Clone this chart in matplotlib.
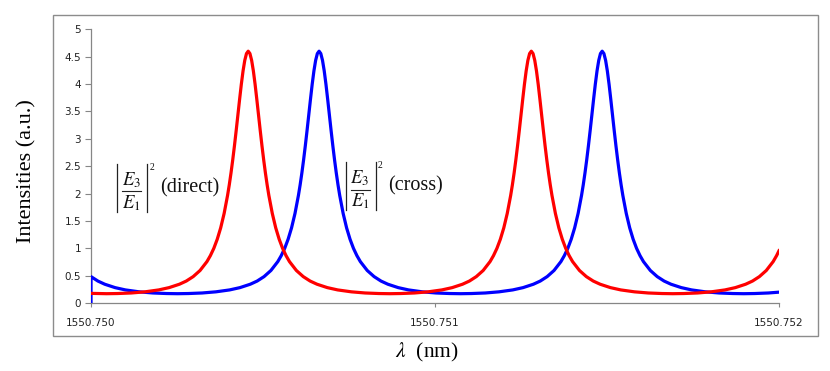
import matplotlib
matplotlib.use("Agg")
import matplotlib.pyplot as plt
from matplotlib.patches import Rectangle
from matplotlib.lines import Line2D

plt.rcParams['mathtext.fontset'] = 'stix'

# wavelength offsets from 1550.750 nm, in units of 1e-6 nm
red_offset = [0, 45.5, 77, 117, 157, 197, 227, 257, 277, 297, 317, 337, 347, 357, 367, 377, 387, 397, 402, 407, 412,
              417, 422, 427, 432, 437, 442, 447, 452, 457, 462, 467, 472, 477, 482, 487, 492, 497, 502, 507, 512, 517,
              527, 537, 547, 557, 567, 577, 597, 617, 637, 657, 687, 717, 757, 797, 837, 868.5,
              900, 940, 980, 1020, 1050, 1080, 1100, 1120, 1140, 1160, 1170, 1180, 1190, 1200, 1210, 1220, 1225, 1230,
              1235, 1240, 1245, 1250, 1255, 1260, 1265, 1270, 1275, 1280, 1285, 1290, 1295, 1300, 1305, 1310, 1315,
              1320, 1325, 1330, 1335, 1340, 1350, 1360, 1370, 1380, 1390, 1400, 1420, 1440, 1460, 1480, 1510, 1540,
              1580, 1620, 1660, 1691.5, 1723, 1763, 1803, 1843, 1873, 1903, 1923, 1943, 1963, 1983, 1993, 2000]
red_intensity = [0.176, 0.170, 0.173, 0.183, 0.204, 0.239, 0.281, 0.343, 0.401, 0.482, 0.594, 0.756, 0.865, 0.998,
                 1.165, 1.373, 1.636, 1.966, 2.160, 2.376, 2.614, 2.872, 3.148, 3.434, 3.721, 3.996, 4.239, 4.432,
                 4.557, 4.600, 4.557, 4.432, 4.239, 3.996, 3.721, 3.434, 3.148, 2.872, 2.614, 2.376, 2.160, 1.966,
                 1.636, 1.373, 1.165, 0.998, 0.865, 0.756, 0.594, 0.482, 0.401, 0.343, 0.281, 0.239, 0.204, 0.183,
                 0.173, 0.170,
                 0.173, 0.183, 0.204, 0.239, 0.281, 0.343, 0.401, 0.482, 0.594, 0.756, 0.865, 0.998, 1.165, 1.373,
                 1.636, 1.966, 2.160, 2.376, 2.614, 2.872, 3.148, 3.434, 3.721, 3.996, 4.239, 4.432, 4.557, 4.600,
                 4.557, 4.432, 4.239, 3.996, 3.721, 3.434, 3.148, 2.872, 2.614, 2.376, 2.160, 1.966, 1.636, 1.373,
                 1.165, 0.998, 0.865, 0.756, 0.594, 0.482, 0.401, 0.343, 0.281, 0.239, 0.204, 0.183, 0.173, 0.170,
                 0.173, 0.183, 0.204, 0.239, 0.281, 0.343, 0.401, 0.482, 0.594, 0.756, 0.865, 0.955]

blue_offset = [0, 0, 20, 40, 70, 100, 140, 180, 220, 251.5,
               283, 323, 363, 403, 433, 463, 483, 503, 523, 543, 553, 563, 573, 583, 593, 603, 608, 613, 618, 623,
               628, 633, 638, 643, 648, 653, 658, 663, 668, 673, 678, 683, 688, 693, 698, 703, 708, 713, 718, 723,
               733, 743, 753, 763, 773, 783, 803, 823, 843, 863, 893, 923, 963, 1003, 1043, 1074.5,
               1106, 1146, 1186, 1226, 1256, 1286, 1306, 1326, 1346, 1366, 1376, 1386, 1396, 1406, 1416, 1426, 1431,
               1436, 1441, 1446, 1451, 1456, 1461, 1466, 1471, 1476, 1481, 1486, 1491, 1496, 1501, 1506, 1511, 1516,
               1521, 1526, 1531, 1536, 1541, 1546, 1556, 1566, 1576, 1586, 1596, 1606, 1626, 1646, 1666, 1686, 1716,
               1746, 1786, 1826, 1866, 1897.5, 1929, 1969, 2000]
blue_intensity = [0.000, 0.482, 0.401, 0.343, 0.281, 0.239, 0.204, 0.183, 0.173, 0.170,
                  0.173, 0.183, 0.204, 0.239, 0.281, 0.343, 0.401, 0.482, 0.594, 0.756, 0.865, 0.998, 1.165, 1.373,
                  1.636, 1.966, 2.160, 2.376, 2.614, 2.872, 3.148, 3.434, 3.721, 3.996, 4.239, 4.432, 4.557, 4.600,
                  4.557, 4.432, 4.239, 3.996, 3.721, 3.434, 3.148, 2.872, 2.614, 2.376, 2.160, 1.966, 1.636, 1.373,
                  1.165, 0.998, 0.865, 0.756, 0.594, 0.482, 0.401, 0.343, 0.281, 0.239, 0.204, 0.183, 0.173, 0.170,
                  0.173, 0.183, 0.204, 0.239, 0.281, 0.343, 0.401, 0.482, 0.594, 0.756, 0.865, 0.998, 1.165, 1.373,
                  1.636, 1.966, 2.160, 2.376, 2.614, 2.872, 3.148, 3.434, 3.721, 3.996, 4.239, 4.432, 4.557, 4.600,
                  4.557, 4.432, 4.239, 3.996, 3.721, 3.434, 3.148, 2.872, 2.614, 2.376, 2.160, 1.966, 1.636, 1.373,
                  1.165, 0.998, 0.865, 0.756, 0.594, 0.482, 0.401, 0.343, 0.281, 0.239, 0.204, 0.183, 0.173, 0.170,
                  0.173, 0.183, 0.198]

lambda0 = 1550.750
x_ticks = [1550.750, 1550.751, 1550.752]
x_tick_labels = ["1550.750", "1550.751", "1550.752"]
y_ticks = [0, 0.5, 1, 1.5, 2, 2.5, 3, 3.5, 4, 4.5, 5]
y_tick_labels = ["0", "0.5", "1", "1.5", "2", "2.5", "3", "3.5", "4", "4.5", "5"]
annotation_labels = ["(direct)", "(cross)"]

red_x = [lambda0 + v * 1e-6 for v in red_offset]
blue_x = [lambda0 + v * 1e-6 for v in blue_offset]

W, H = 830, 371
fig = plt.figure(figsize=(W / 100, H / 100), dpi=100)
fig.patch.set_facecolor('white')


def fx(px):
    return px / W


def fy(py):
    return 1 - py / H


# outer chart frame
fig.patches.append(Rectangle((fx(53), fy(336)), (818 - 53) / W, (336 - 15) / H,
                             transform=fig.transFigure, fill=False, edgecolor='#8c8c8c', linewidth=1.0))

ax = fig.add_axes([fx(91), fy(303), (779 - 91) / W, (303 - 29.3) / H])
ax.plot(blue_x, blue_intensity, color='#0000FF', lw=2.3, solid_joinstyle='round', zorder=3)
ax.plot(red_x, red_intensity, color='#FF0000', lw=2.3, solid_joinstyle='round', zorder=4)

ax.set_xlim(x_ticks[0], x_ticks[-1])
ax.set_ylim(0, 5)
ax.set_xticks(x_ticks)
ax.set_xticklabels(x_tick_labels)
ax.set_yticks(y_ticks)
ax.set_yticklabels(y_tick_labels)
for s in ['top', 'right']:
    ax.spines[s].set_visible(False)
for s in ['left', 'bottom']:
    ax.spines[s].set_color('#868686')
    ax.spines[s].set_linewidth(0.9)
ax.tick_params(axis='y', direction='out', length=4, width=0.8, color='#868686', labelsize=7.5, pad=3,
               labelcolor='#222222')
ax.tick_params(axis='x', direction='out', length=3, width=0.8, color='#868686', labelsize=7.5, pad=8,
               labelcolor='#222222')
ax.patch.set_alpha(0)

fig.text(fx(27), fy(171), "Intensities (a.u.)", rotation=90, ha='center', va='center',
         family='Liberation Serif', fontsize=16)
fig.text(fx(427), fy(352), r"$\lambda$  (nm)", ha='center', va='center',
         family='Liberation Serif', fontsize=15.5)


def ratio_label(x0, yc, label):
    # |E3/E1|^2 drawn as pieces, in pixel coordinates
    for bx in (x0, x0 + 29.5):
        fig.add_artist(Line2D([fx(bx), fx(bx)], [fy(yc - 24), fy(yc + 24)], transform=fig.transFigure,
                              color='#222222', lw=0.9))
    fig.add_artist(Line2D([fx(x0 + 4.5), fx(x0 + 24)], [fy(yc + 3.5), fy(yc + 3.5)], transform=fig.transFigure,
                          color='#222222', lw=0.8))
    fig.text(fx(x0 + 14), fy(yc - 8), r"$E_3$", ha='center', va='center', fontsize=13.5, color='#111111')
    fig.text(fx(x0 + 14), fy(yc + 15), r"$E_1$", ha='center', va='center', fontsize=13.5, color='#111111')
    fig.text(fx(x0 + 32), fy(yc - 20), "2", ha='left', va='center', family='Liberation Serif', fontsize=7,
             color='#111111')
    fig.text(fx(x0 + 42.5), fy(yc), label, ha='left', va='center', family='Liberation Serif', fontsize=14.5,
             color='#111111')


ratio_label(117.3, 188, annotation_labels[0])
ratio_label(346, 186, annotation_labels[1])

fig.savefig('out.png', dpi=100)
